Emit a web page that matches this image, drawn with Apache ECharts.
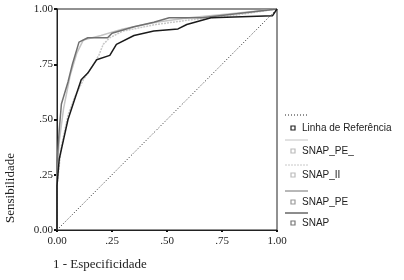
<!DOCTYPE html>
<html><head><meta charset="utf-8">
<script src="https://cdn.jsdelivr.net/npm/echarts@6/dist/echarts.min.js"></script>
<style>html,body{margin:0;padding:0;background:#fff}#c{width:404px;height:280px}</style>
</head><body><div id="c"></div>
<script>
const seriesNames = ['Linha de Referência', 'SNAP_PE_', 'SNAP_II', 'SNAP_PE', 'SNAP'];
const tickLabels = ['0.00', '.25', '.50', '.75', '1.00'];
const refLine = [[0, 0], [1, 1]];
const snapPE_ = [[0,0],[0,0.25],[0.01,0.4],[0.03,0.55],[0.06,0.7],[0.09,0.8],[0.12,0.86],[0.2,0.88],[0.3,0.91],[0.45,0.94],[0.6,0.96],[0.8,0.98],[1,1]];
const snapII = [[0,0],[0,0.2],[0.02,0.38],[0.05,0.52],[0.08,0.6],[0.12,0.68],[0.16,0.74],[0.19,0.79],[0.21,0.84],[0.24,0.87],[0.3,0.9],[0.45,0.93],[0.6,0.95],[0.8,0.97],[1,1]];
const snapPE = [[0,0],[0,0.3],[0.01,0.45],[0.02,0.57],[0.05,0.67],[0.07,0.75],[0.10,0.85],[0.14,0.87],[0.23,0.87],[0.25,0.89],[0.35,0.92],[0.44,0.94],[0.51,0.96],[0.66,0.96],[1,1]];
const snap = [[0,0],[0,0.2],[0.01,0.32],[0.03,0.41],[0.05,0.5],[0.08,0.59],[0.11,0.68],[0.14,0.71],[0.18,0.77],[0.24,0.79],[0.27,0.84],[0.35,0.88],[0.44,0.90],[0.55,0.91],[0.59,0.93],[0.70,0.96],[0.98,0.97],[1,1]];

const styles = [
  {color:'#222', type:[1,2], width:1, marker:'#222'},
  {color:'#c4c4c4', type:'solid', width:1.5, marker:'#bbb'},
  {color:'#c8c8c8', type:[2,1], width:1.5, marker:'#bbb'},
  {color:'#707070', type:'solid', width:1.5, marker:'#999'},
  {color:'#1a1a1a', type:'solid', width:1.5, marker:'#777'}
];
const datas = [refLine, snapPE_, snapII, snapPE, snap];

const chart = echarts.init(document.getElementById('c'));
const serif = '"Liberation Serif", "DejaVu Serif", serif';
const sans = '"Liberation Sans", Arial, sans-serif';

const legendGraphics = [];
const lineYs = [115, 140, 165, 191, 213];
const labelYs = [128, 151, 175, 202, 223];
seriesNames.forEach((n, i) => {
  legendGraphics.push({type:'line', shape:{x1:285, y1:lineYs[i], x2:308, y2:lineYs[i]},
    style:{stroke:styles[i].color, lineWidth:1, lineDash: Array.isArray(styles[i].type) ? styles[i].type : null}});
  legendGraphics.push({type:'rect', shape:{x:291, y:labelYs[i]-2, width:4, height:4},
    style:{fill:'#fff', stroke:styles[i].marker, lineWidth:1.2}});
  legendGraphics.push({type:'text', x:302, y:labelYs[i], style:{text:n, fill:'#222', font:'10px ' + sans, textVerticalAlign:'middle'}});
});

chart.setOption({
  animation:false,
  backgroundColor:'#fff',
  grid:{left:57, right:127, top:9, bottom:50, show:true, borderColor:'#222', borderWidth:1},
  xAxis:{type:'value', min:0, max:1, interval:0.25,
    axisLine:{lineStyle:{color:'#222', width:1}},
    axisTick:{show:true, length:2, lineStyle:{color:'#111', width:2}},
    splitLine:{show:false},
    axisLabel:{color:'#222', fontFamily:serif, fontSize:11, margin:6,
      formatter:v => tickLabels[Math.round(v*4)]}},
  yAxis:{type:'value', min:0, max:1, interval:0.25,
    axisLine:{lineStyle:{color:'#222', width:1}},
    axisTick:{show:true, length:3, lineStyle:{color:'#111', width:2}},
    splitLine:{show:false},
    axisLabel:{color:'#222', fontFamily:serif, fontSize:11, margin:4,
      formatter:v => tickLabels[Math.round(v*4)]}},
  graphic:[
    {type:'text', x:53, y:265, style:{text:'1 - Especificidade', fill:'#222', font:'13px ' + serif, textVerticalAlign:'middle'}},
    {type:'text', x:11, y:188, rotation:Math.PI/2, style:{text:'Sensibilidade', fill:'#222', font:'13px ' + serif, textAlign:'center', textVerticalAlign:'middle'}},
    ...legendGraphics
  ],
  series: datas.map((d, i) => ({
    name: seriesNames[i], type:'line', data:d, symbol:'none', silent:true,
    z: [1,2,3,4,5][i],
    lineStyle:{color:styles[i].color, width:styles[i].width, type:styles[i].type}
  }))
});
</script></body></html>
